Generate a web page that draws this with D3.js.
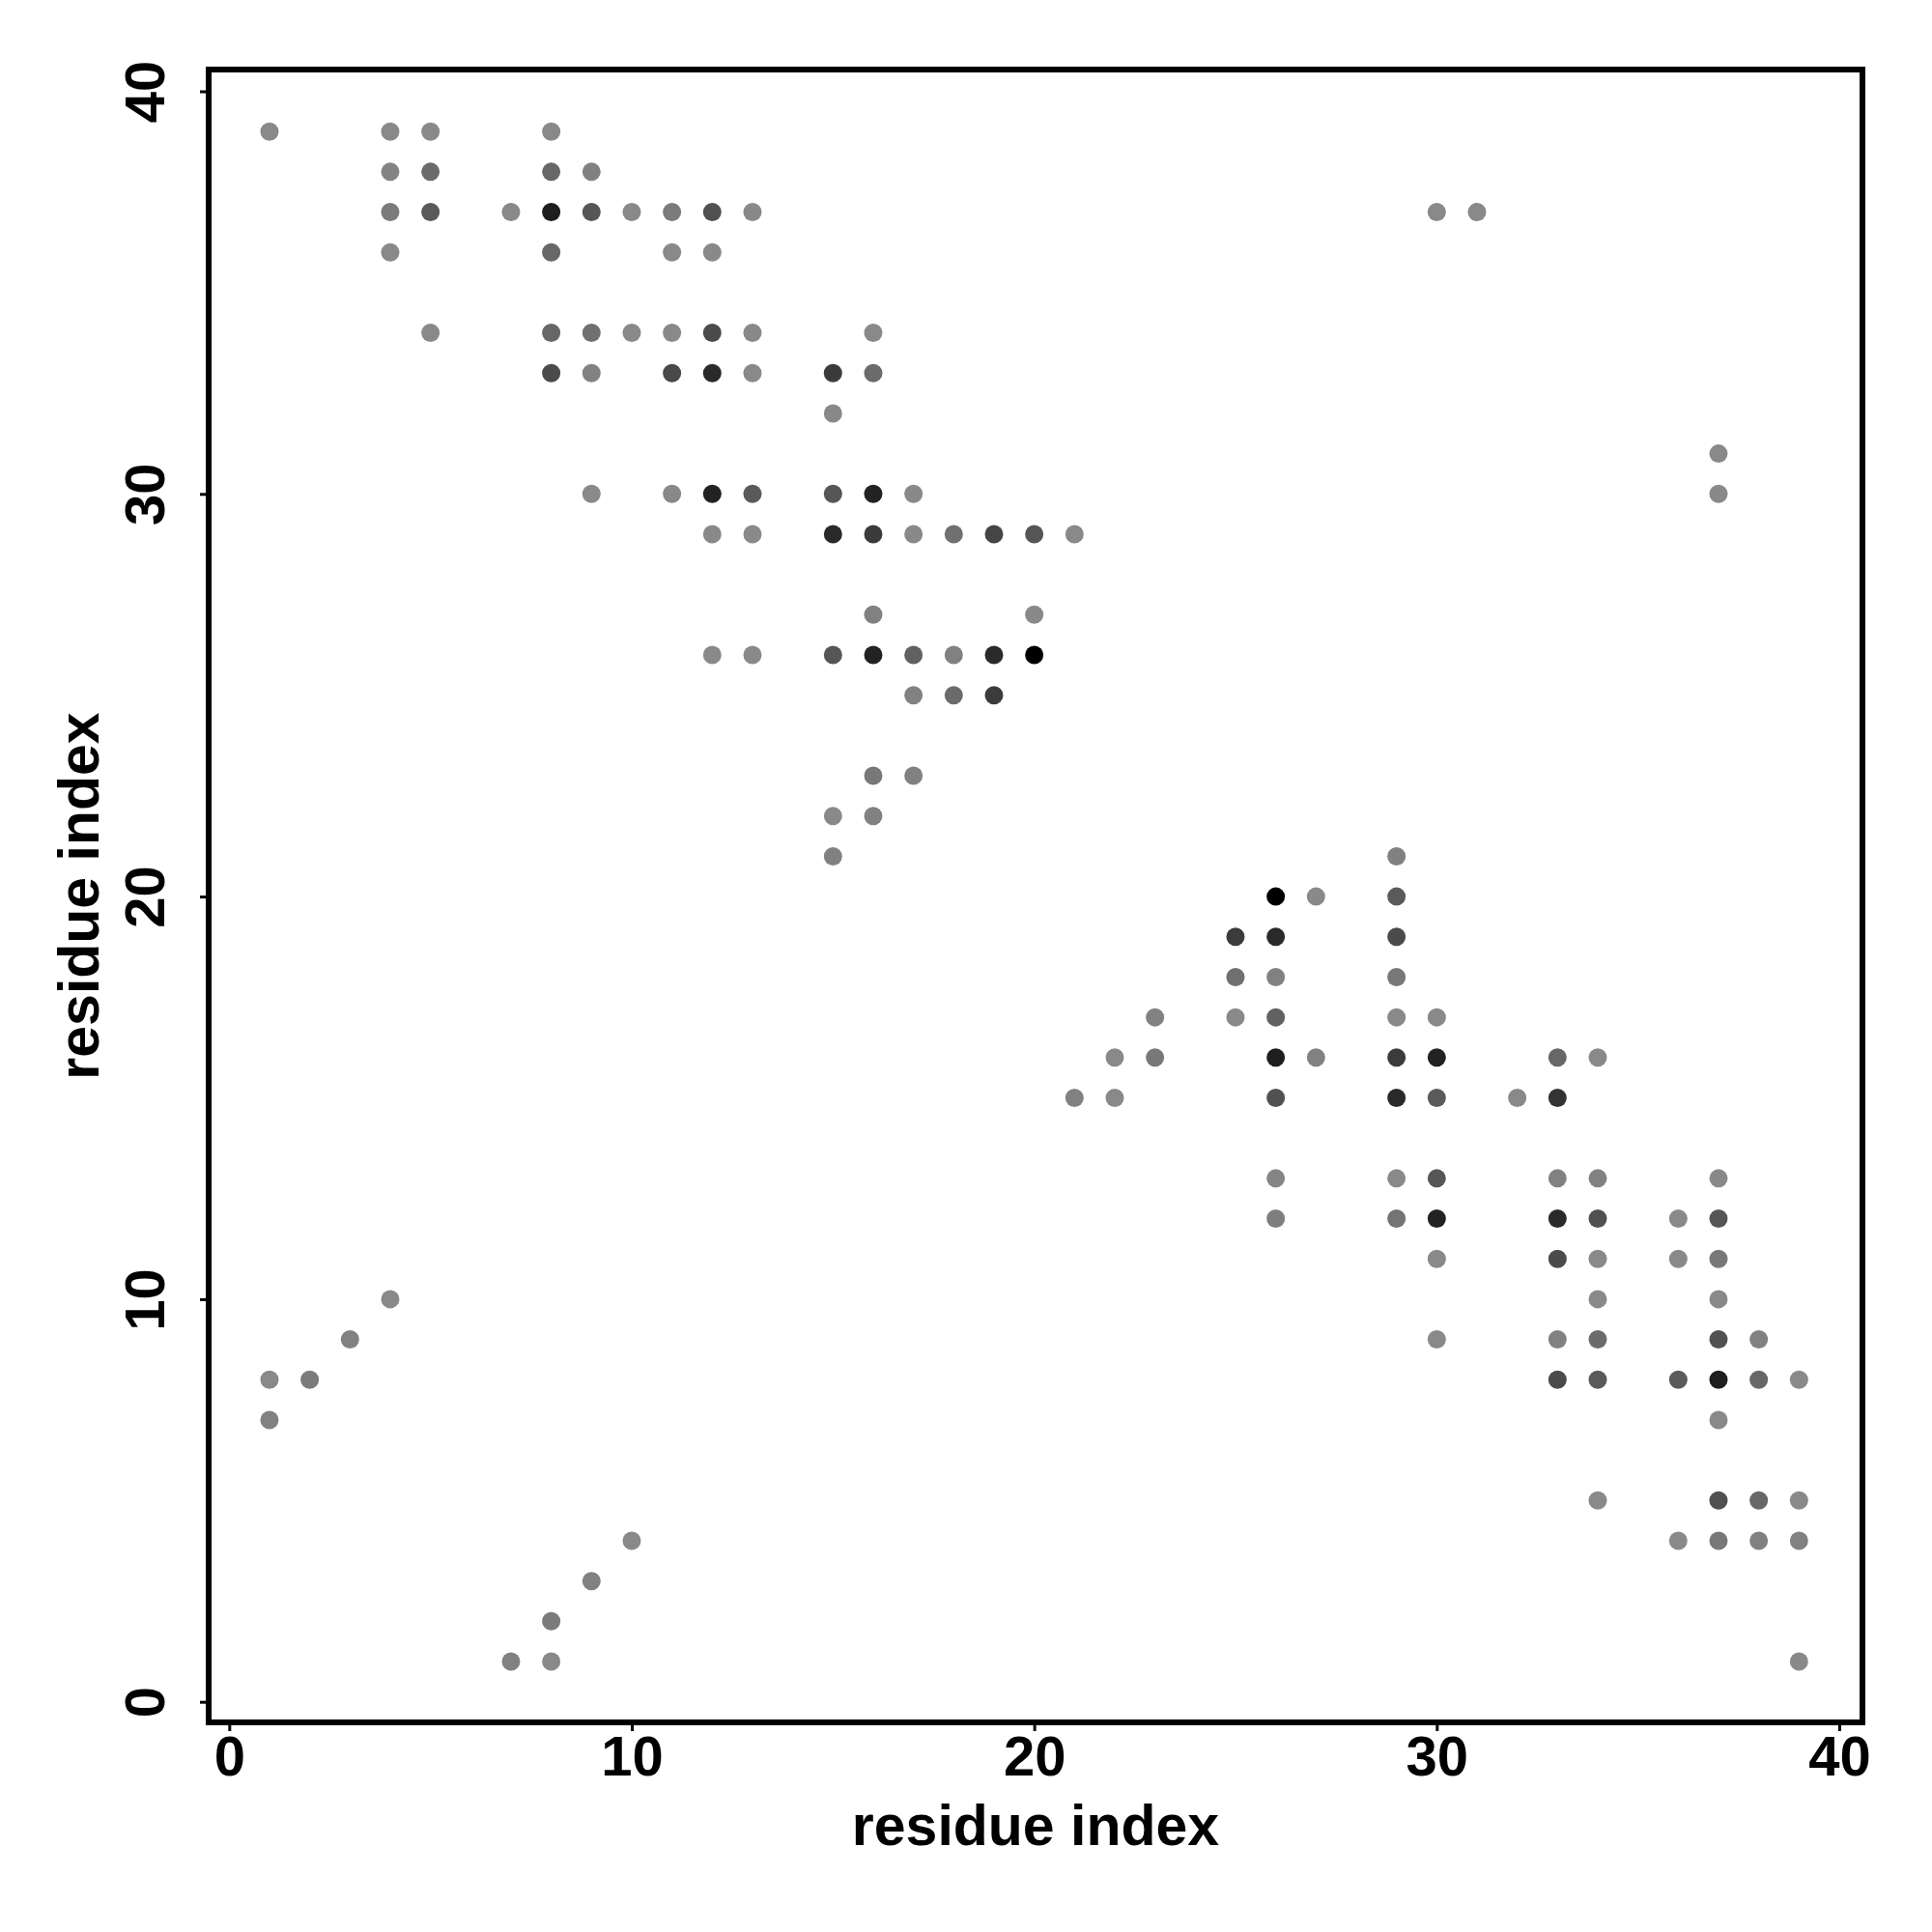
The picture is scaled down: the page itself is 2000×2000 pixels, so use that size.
<!DOCTYPE html>
<html>
<head>
<meta charset="utf-8">
<script src="https://cdn.jsdelivr.net/npm/d3@7"></script>
<style>
  html, body { margin: 0; padding: 0; background: #fff; }
  text { font-family: "Liberation Sans", Arial, Helvetica, sans-serif; font-weight: bold; }
</style>
</head>
<body>
<svg id="chart" width="2000" height="2000"></svg>
<script>
// ---- data: residue contacts (i, j) with contact score 0..1 ----
const contactI = [
  1,4,5,8,
  4,5,8,9,
  4,5,7,8,9,10,11,12,13,30,31,
  4,8,11,12,
  5,8,9,10,11,12,13,16,
  8,9,11,12,13,15,16,
  15,
  37,
  9,11,12,13,15,16,17,37,
  12,13,15,16,17,18,19,20,21,
  16,20,
  12,13,15,16,17,18,19,20,
  17,18,19,
  16,17,
  15,16,
  15,29,
  26,27,29,
  25,26,29,
  25,26,29,
  23,25,26,29,30,
  22,23,26,27,29,30,33,34,
  21,22,26,29,30,32,33,
  26,29,30,33,34,37,
  26,29,30,33,34,36,37,
  30,33,34,36,37,
  4,34,37,
  3,30,33,34,37,38,
  1,2,33,34,36,37,38,39,
  1,37,
  34,37,38,39,
  10,36,37,38,39,
  9,
  8,
  7,8,39
];
const contactJ = [
  39,39,39,39,
  38,38,38,38,
  37,37,37,37,37,37,37,37,37,37,37,
  36,36,36,36,
  34,34,34,34,34,34,34,34,
  33,33,33,33,33,33,33,
  32,
  31,
  30,30,30,30,30,30,30,30,
  29,29,29,29,29,29,29,29,29,
  27,27,
  26,26,26,26,26,26,26,26,
  25,25,25,
  23,23,
  22,22,
  21,21,
  20,20,20,
  19,19,19,
  18,18,18,
  17,17,17,17,17,
  16,16,16,16,16,16,16,16,
  15,15,15,15,15,15,15,
  13,13,13,13,13,13,
  12,12,12,12,12,12,12,
  11,11,11,11,11,
  10,10,10,
  9,9,9,9,9,9,
  8,8,8,8,8,8,8,8,
  7,7,
  5,5,5,5,
  4,4,4,4,4,
  3,
  2,
  1,1,1
];
const contactScore = [
  0,0,0,0,
  0.04,0.22,0.25,0.06,
  0.1,0.34,0,0.78,0.375,0,0.1,0.41,0,0,0,
  0,0.25,0,0,
  0,0.25,0.18,0,0,0.45,0,0,
  0.45,0.06,0.47,0.69,0,0.57,0.22,
  0,
  0,
  0,0,0.75,0.34,0.375,0.75,0,0,
  0,0,0.69,0.57,0,0.18,0.5,0.375,0,
  0.06,0,
  0,0,0.375,0.75,0.29,0.06,0.69,1,
  0.06,0.22,0.57,
  0.125,0.06,
  0,0.06,
  0.06,0.06,
  1,0,0.34,
  0.57,0.69,0.45,
  0.18,0.06,0.125,
  0.06,0,0.29,0,0,
  0,0.125,0.78,0.06,0.57,0.75,0.25,0,
  0.06,0,0.41,0.69,0.34,0,0.625,
  0.03,0,0.375,0.06,0.06,0,
  0.08,0.15,0.75,0.69,0.41,0,0.375,
  0,0.45,0,0,0.125,
  0,0,0,
  0.06,0,0.06,0.22,0.41,0.06,
  0,0.1,0.45,0.34,0.34,0.78,0.25,0,
  0.06,0,
  0,0.41,0.25,0,
  0,0,0.125,0.06,0.06,
  0.06,
  0.1,
  0.06,0,0
];
const xTicks = [0, 10, 20, 30, 40];
const yTicks = [0, 10, 20, 30, 40];
const xTitle = "residue index";
const yTitle = "residue index";

const points = contactI.map((v, k) => ({ i: v, j: contactJ[k], s: contactScore[k] }));

// ---- layout ----
const svg = d3.select("#chart");
const frameLeft = 216, frameRight = 1928, frameTop = 72, frameBottom = 1783;

const x = d3.scaleLinear().domain([0, 40]).range([237.3, 1904]);
const y = d3.scaleLinear().domain([0, 40]).range([1761.7, 94.5]);
const shade = d3.scaleLinear().domain([0, 1]).range(["#898989", "#000000"]);

svg.append("rect").attr("width", 2000).attr("height", 2000).attr("fill", "#fff");

// points
svg.append("g").selectAll("circle")
  .data(points)
  .join("circle")
  .attr("cx", d => x(d.i))
  .attr("cy", d => y(d.j))
  .attr("r", 9.5)
  .attr("fill", d => shade(d.s));

// axes
const fontSize = 58;
const xAxis = svg.append("g")
  .attr("transform", `translate(0,${frameBottom})`)
  .call(d3.axisBottom(x).tickValues(xTicks).tickSize(9).tickFormat(d3.format("d")));
xAxis.select(".domain").remove();
xAxis.selectAll(".tick line").attr("stroke", "#000").attr("stroke-width", 3);
xAxis.selectAll(".tick text")
  .attr("font-size", fontSize)
  .attr("fill", "#000")
  .attr("dy", null)
  .attr("y", 55);

const yAxis = svg.append("g")
  .attr("transform", `translate(${frameLeft},0)`)
  .call(d3.axisLeft(y).tickValues(yTicks).tickSize(9).tickFormat(d3.format("d")));
yAxis.select(".domain").remove();
yAxis.selectAll(".tick line").attr("stroke", "#000").attr("stroke-width", 3);
yAxis.selectAll(".tick text")
  .attr("font-size", fontSize)
  .attr("fill", "#000")
  .attr("x", null)
  .attr("dy", null)
  .attr("text-anchor", "middle")
  .attr("transform", "translate(-46,0) rotate(-90)");

// frame
svg.append("rect")
  .attr("x", frameLeft).attr("y", frameTop)
  .attr("width", frameRight - frameLeft).attr("height", frameBottom - frameTop)
  .attr("fill", "none").attr("stroke", "#000").attr("stroke-width", 6);

// titles
svg.append("text")
  .attr("x", (frameLeft + frameRight) / 2)
  .attr("y", 1910)
  .attr("text-anchor", "middle")
  .attr("font-size", 59)
  .attr("fill", "#000")
  .text(xTitle);

svg.append("text")
  .attr("transform", `translate(102,${(frameTop + frameBottom) / 2}) rotate(-90)`)
  .attr("text-anchor", "middle")
  .attr("font-size", 59)
  .attr("fill", "#000")
  .text(yTitle);
</script>
</body>
</html>
